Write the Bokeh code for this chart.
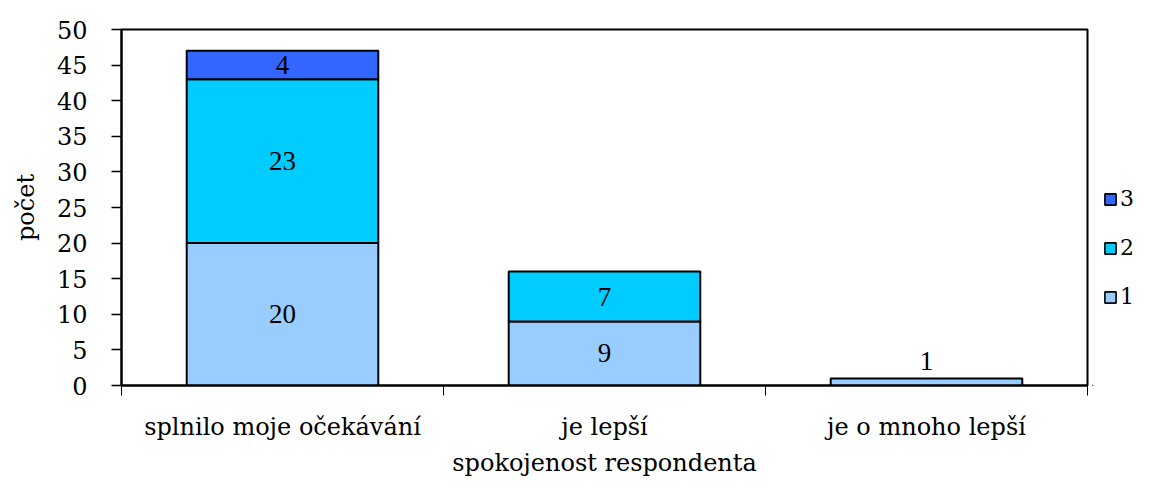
from bokeh.plotting import figure
from bokeh.layouts import row
from bokeh.models import FixedTicker, Legend, LegendItem, ColumnDataSource, Range1d
from bokeh.core.properties import value
from bokeh.embed import file_html
from bokeh.resources import INLINE

categories = ["splnilo moje očekávání", "je lepší", "je o mnoho lepší"]
series_names = ["1", "2", "3"]
series_1 = [20, 9, 1]
series_2 = [23, 7, 0]
series_3 = [4, 0, 0]
y_ticks = [0, 5, 10, 15, 20, 25, 30, 35, 40, 45, 50]
colors = ["#99CCFF", "#00CCFF", "#3366FF"]
x_title = "spokojenost respondenta"
y_title = "počet"

FONT = "DejaVu Serif"
LABEL_FONT = "Liberation Serif"
series = [series_1, series_2, series_3]

p = figure(width=1092, height=479, output_backend="svg", toolbar_location=None,
           x_range=Range1d(0, len(categories)), y_range=Range1d(0, 50),
           min_border_left=121, min_border_top=29, min_border_right=5,
           min_border_bottom=93)

centers = [i + 0.5 for i in range(len(categories))]
bottoms = [0] * len(categories)
lab_x, lab_y, lab_t = [], [], []
for vals, col in zip(series, colors):
    xs, bs, ts = [], [], []
    for i, v in enumerate(vals):
        if v > 0:
            xs.append(centers[i]); bs.append(bottoms[i]); ts.append(bottoms[i] + v)
            lab_x.append(centers[i]); lab_t.append(str(v))
            if v >= 3:
                lab_y.append(bottoms[i] + v / 2)
            else:  # too thin for an inside label: put it just above the bar
                lab_y.append(bottoms[i] + v + 2.4)
        bottoms[i] += v
    src = ColumnDataSource(dict(x=xs, bottom=bs, top=ts))
    p.vbar(x="x", bottom="bottom", top="top", width=0.595, source=src,
           fill_color=col, line_color="black", line_width=2)

p.text(x=lab_x, y=lab_y, text=lab_t, text_align="center", text_baseline="middle",
       text_font=value(LABEL_FONT), text_font_size="27px", text_color="black")

p.xgrid.visible = False
p.ygrid.visible = False
p.outline_line_color = "black"
p.outline_line_width = 2
p.background_fill_color = "white"
p.border_fill_color = "white"

xa = p.xaxis[0]
xa.ticker = FixedTicker(ticks=centers, minor_ticks=list(range(len(categories) + 1)))
xa.major_label_overrides = {c: lab for c, lab in zip(centers, categories)}
xa.major_tick_out = 0
xa.major_tick_in = 0
xa.minor_tick_out = 10
xa.minor_tick_in = 0
xa.minor_tick_line_color = "black"
xa.minor_tick_line_width = 1
xa.axis_line_color = "black"
xa.axis_line_width = 2
xa.major_label_text_font = FONT
xa.major_label_text_font_size = "24px"
xa.major_label_text_color = "black"
xa.major_label_standoff = 17
xa.axis_label = x_title
xa.axis_label_text_font = FONT
xa.axis_label_text_font_size = "24px"
xa.axis_label_text_font_style = "normal"
xa.axis_label_text_color = "black"
xa.axis_label_standoff = 5

ya = p.yaxis[0]
ya.ticker = FixedTicker(ticks=y_ticks, minor_ticks=[])
ya.major_tick_out = 10
ya.major_tick_in = 0
ya.major_tick_line_color = "black"
ya.major_tick_line_width = 1.5
ya.axis_line_color = "black"
ya.axis_line_width = 2
ya.major_label_text_font = FONT
ya.major_label_text_font_size = "24px"
ya.major_label_text_color = "black"
ya.major_label_standoff = 24
ya.axis_label = y_title
ya.axis_label_text_font = FONT
ya.axis_label_text_font_size = "24px"
ya.axis_label_text_font_style = "normal"
ya.axis_label_text_color = "black"
ya.axis_label_standoff = 14

# legend panel to the right of the chart (its key glyphs sit outside its visible range)
lg = figure(width=42, height=479, output_backend="svg", toolbar_location=None,
            x_axis_location=None, y_axis_location=None,
            x_range=Range1d(10, 11), y_range=Range1d(10, 11),
            min_border_left=0, min_border_right=0, min_border_top=0, min_border_bottom=0)
lg.outline_line_color = None
lg.xgrid.visible = False
lg.ygrid.visible = False
lg.background_fill_color = "white"
lg.border_fill_color = "white"
keys = [lg.vbar(x=[0], top=[1], width=0.1, fill_color=c, line_color="black", line_width=1.6)
        for c in colors]
legend = Legend(items=[LegendItem(label=n, renderers=[r])
                       for n, r in reversed(list(zip(series_names, keys)))],
                location=(11, 76), orientation="vertical",
                glyph_width=14, glyph_height=14, label_standoff=3,
                label_height=24, spacing=24, padding=0, margin=0,
                border_line_color=None, background_fill_alpha=0,
                label_text_font=FONT, label_text_font_size="22px",
                label_text_color="black")
lg.add_layout(legend)

layout = row(p, lg, spacing=0)
open("out.html", "w").write(file_html(layout, INLINE))
